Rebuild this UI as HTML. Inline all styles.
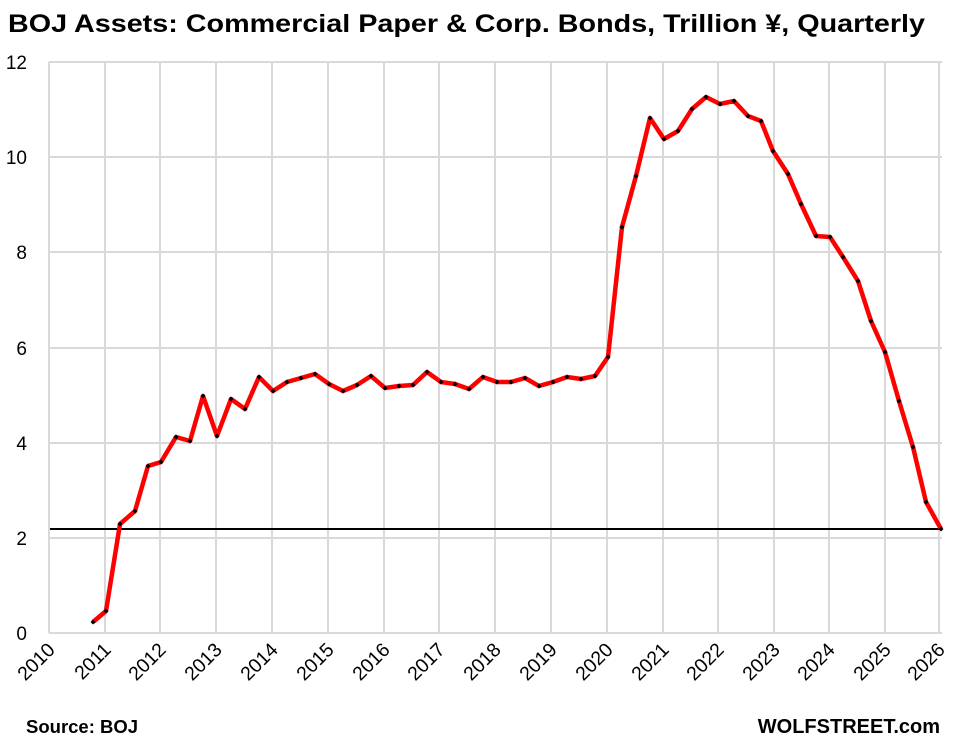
<!DOCTYPE html><html><head><style>body{margin:0;background:#fff}svg{display:block}</style></head><body>
<svg width="962" height="751" xmlns="http://www.w3.org/2000/svg" font-family="Liberation Sans, sans-serif">
<text x="8" y="32" font-size="25" font-weight="bold" textLength="917" lengthAdjust="spacingAndGlyphs">BOJ Assets: Commercial Paper &amp; Corp. Bonds, Trillion ¥, Quarterly</text>
<g stroke="#d9d9d9" stroke-width="2">
<line x1="49" y1="62" x2="942" y2="62"/><line x1="49" y1="157" x2="942" y2="157"/><line x1="49" y1="252" x2="942" y2="252"/><line x1="49" y1="348" x2="942" y2="348"/><line x1="49" y1="443" x2="942" y2="443"/><line x1="49" y1="538" x2="942" y2="538"/><line x1="49" y1="633" x2="942" y2="633"/>
<line x1="49" y1="62" x2="49" y2="633"/><line x1="105" y1="62" x2="105" y2="633"/><line x1="160" y1="62" x2="160" y2="633"/><line x1="216" y1="62" x2="216" y2="633"/><line x1="272" y1="62" x2="272" y2="633"/><line x1="328" y1="62" x2="328" y2="633"/><line x1="384" y1="62" x2="384" y2="633"/><line x1="439" y1="62" x2="439" y2="633"/><line x1="495" y1="62" x2="495" y2="633"/><line x1="551" y1="62" x2="551" y2="633"/><line x1="607" y1="62" x2="607" y2="633"/><line x1="663" y1="62" x2="663" y2="633"/><line x1="718" y1="62" x2="718" y2="633"/><line x1="774" y1="62" x2="774" y2="633"/><line x1="829" y1="62" x2="829" y2="633"/><line x1="885" y1="62" x2="885" y2="633"/><line x1="939" y1="62" x2="939" y2="633"/>
</g>
<line x1="50" y1="529" x2="942" y2="529" stroke="#000" stroke-width="2"/>
<g font-size="19" fill="#000" text-anchor="end">
<text x="27" y="69">12</text><text x="27" y="164">10</text><text x="27" y="259">8</text><text x="27" y="355">6</text><text x="27" y="450">4</text><text x="27" y="545">2</text><text x="27" y="640">0</text>
</g>
<g font-size="19.5" fill="#000" text-anchor="end">
<text transform="translate(56,651) rotate(-45)">2010</text><text transform="translate(112,651) rotate(-45)">2011</text><text transform="translate(167,651) rotate(-45)">2012</text><text transform="translate(223,651) rotate(-45)">2013</text><text transform="translate(279,651) rotate(-45)">2014</text><text transform="translate(335,651) rotate(-45)">2015</text><text transform="translate(391,651) rotate(-45)">2016</text><text transform="translate(446,651) rotate(-45)">2017</text><text transform="translate(502,651) rotate(-45)">2018</text><text transform="translate(558,651) rotate(-45)">2019</text><text transform="translate(614,651) rotate(-45)">2020</text><text transform="translate(670,651) rotate(-45)">2021</text><text transform="translate(725,651) rotate(-45)">2022</text><text transform="translate(781,651) rotate(-45)">2023</text><text transform="translate(836,651) rotate(-45)">2024</text><text transform="translate(892,651) rotate(-45)">2025</text><text transform="translate(946,651) rotate(-45)">2026</text>
</g>
<polyline fill="none" stroke="#f00" stroke-width="4.5" stroke-linejoin="round" points="93,622 106,611 120,524 135,511 148,466 161,462 176,437 190,441 203,396 217,436 231,399 245,409 259,377 273,391 287,382 301,378 315,374 329,384 343,391 357,385 371,376 385,388 399,386 413,385 427,372 441,382 455,384 469,389 483,377 497,382 511,382 525,378 539,386 553,382 567,377 581,379 595,376 608,357 622,227 636,176 650,118 664,139 678,131 692,109 706,97 720,104 734,101 748,116 761,121 773,151 788,174 801,204 816,236 830,237 843,257 858,281 871,321 885,352 899,401 913,447 926,502 941,529"/>
<text x="26" y="733" font-size="18.5" font-weight="bold">Source: BOJ</text>
<text x="940" y="733" font-size="20" font-weight="bold" text-anchor="end">WOLFSTREET.com</text>
<g fill="#000">
<path d="M93,619.5l2.5,2.5l-2.5,2.5l-2.5,-2.5zM106,608.5l2.5,2.5l-2.5,2.5l-2.5,-2.5zM120,521.5l2.5,2.5l-2.5,2.5l-2.5,-2.5zM135,508.5l2.5,2.5l-2.5,2.5l-2.5,-2.5zM148,463.5l2.5,2.5l-2.5,2.5l-2.5,-2.5zM161,459.5l2.5,2.5l-2.5,2.5l-2.5,-2.5zM176,434.5l2.5,2.5l-2.5,2.5l-2.5,-2.5zM190,438.5l2.5,2.5l-2.5,2.5l-2.5,-2.5zM203,393.5l2.5,2.5l-2.5,2.5l-2.5,-2.5zM217,433.5l2.5,2.5l-2.5,2.5l-2.5,-2.5zM231,396.5l2.5,2.5l-2.5,2.5l-2.5,-2.5zM245,406.5l2.5,2.5l-2.5,2.5l-2.5,-2.5zM259,374.5l2.5,2.5l-2.5,2.5l-2.5,-2.5zM273,388.5l2.5,2.5l-2.5,2.5l-2.5,-2.5zM287,379.5l2.5,2.5l-2.5,2.5l-2.5,-2.5zM301,375.5l2.5,2.5l-2.5,2.5l-2.5,-2.5zM315,371.5l2.5,2.5l-2.5,2.5l-2.5,-2.5zM329,381.5l2.5,2.5l-2.5,2.5l-2.5,-2.5zM343,388.5l2.5,2.5l-2.5,2.5l-2.5,-2.5zM357,382.5l2.5,2.5l-2.5,2.5l-2.5,-2.5zM371,373.5l2.5,2.5l-2.5,2.5l-2.5,-2.5zM385,385.5l2.5,2.5l-2.5,2.5l-2.5,-2.5zM399,383.5l2.5,2.5l-2.5,2.5l-2.5,-2.5zM413,382.5l2.5,2.5l-2.5,2.5l-2.5,-2.5zM427,369.5l2.5,2.5l-2.5,2.5l-2.5,-2.5zM441,379.5l2.5,2.5l-2.5,2.5l-2.5,-2.5zM455,381.5l2.5,2.5l-2.5,2.5l-2.5,-2.5zM469,386.5l2.5,2.5l-2.5,2.5l-2.5,-2.5zM483,374.5l2.5,2.5l-2.5,2.5l-2.5,-2.5zM497,379.5l2.5,2.5l-2.5,2.5l-2.5,-2.5zM511,379.5l2.5,2.5l-2.5,2.5l-2.5,-2.5zM525,375.5l2.5,2.5l-2.5,2.5l-2.5,-2.5zM539,383.5l2.5,2.5l-2.5,2.5l-2.5,-2.5zM553,379.5l2.5,2.5l-2.5,2.5l-2.5,-2.5zM567,374.5l2.5,2.5l-2.5,2.5l-2.5,-2.5zM581,376.5l2.5,2.5l-2.5,2.5l-2.5,-2.5zM595,373.5l2.5,2.5l-2.5,2.5l-2.5,-2.5zM608,354.5l2.5,2.5l-2.5,2.5l-2.5,-2.5zM622,224.5l2.5,2.5l-2.5,2.5l-2.5,-2.5zM636,173.5l2.5,2.5l-2.5,2.5l-2.5,-2.5zM650,115.5l2.5,2.5l-2.5,2.5l-2.5,-2.5zM664,136.5l2.5,2.5l-2.5,2.5l-2.5,-2.5zM678,128.5l2.5,2.5l-2.5,2.5l-2.5,-2.5zM692,106.5l2.5,2.5l-2.5,2.5l-2.5,-2.5zM706,94.5l2.5,2.5l-2.5,2.5l-2.5,-2.5zM720,101.5l2.5,2.5l-2.5,2.5l-2.5,-2.5zM734,98.5l2.5,2.5l-2.5,2.5l-2.5,-2.5zM748,113.5l2.5,2.5l-2.5,2.5l-2.5,-2.5zM761,118.5l2.5,2.5l-2.5,2.5l-2.5,-2.5zM773,148.5l2.5,2.5l-2.5,2.5l-2.5,-2.5zM788,171.5l2.5,2.5l-2.5,2.5l-2.5,-2.5zM801,201.5l2.5,2.5l-2.5,2.5l-2.5,-2.5zM816,233.5l2.5,2.5l-2.5,2.5l-2.5,-2.5zM830,234.5l2.5,2.5l-2.5,2.5l-2.5,-2.5zM843,254.5l2.5,2.5l-2.5,2.5l-2.5,-2.5zM858,278.5l2.5,2.5l-2.5,2.5l-2.5,-2.5zM871,318.5l2.5,2.5l-2.5,2.5l-2.5,-2.5zM885,349.5l2.5,2.5l-2.5,2.5l-2.5,-2.5zM899,398.5l2.5,2.5l-2.5,2.5l-2.5,-2.5zM913,444.5l2.5,2.5l-2.5,2.5l-2.5,-2.5zM926,499.5l2.5,2.5l-2.5,2.5l-2.5,-2.5zM941,526.5l2.5,2.5l-2.5,2.5l-2.5,-2.5z"/>
</g>
</svg>
</body></html>
